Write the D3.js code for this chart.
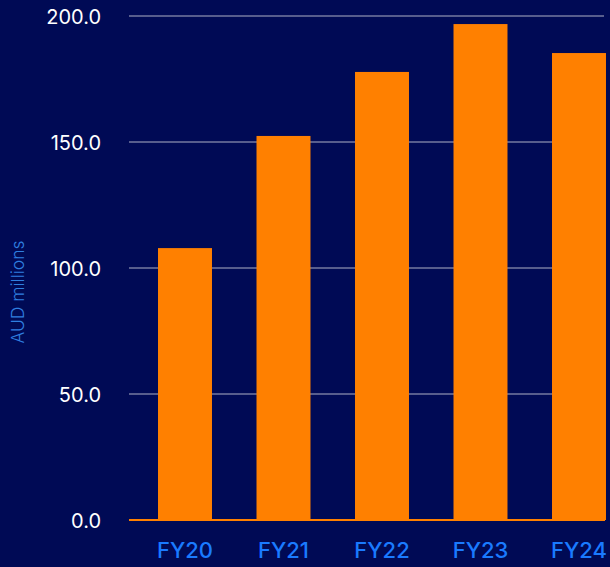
<!DOCTYPE html>
<html><head><meta charset="utf-8">
<script src="https://cdn.jsdelivr.net/npm/d3@7"></script>
<style>
html,body{margin:0;padding:0;background:#000a55;overflow:hidden;}
svg{display:block;}
</style></head><body>
<svg id="chart" width="610" height="567"></svg>
<script>
const categories = ["FY20","FY21","FY22","FY23","FY24"];
const values = [107.9, 152.4, 177.8, 196.8, 185.3];
const yTicks = [0, 50, 100, 150, 200];
const yTitle = "AUD millions";

const W = 610, H = 567;
const svg = d3.select("#chart");
svg.append("rect").attr("width", W).attr("height", H).attr("fill", "#000a55");

const y = d3.scaleLinear().domain([0, 200]).range([520, 16]);
const x = d3.scaleBand().domain(categories).range([129, 129 + 98.5 * 5.137])
  .paddingInner(0.452).paddingOuter(0.2945);

// gridlines
svg.append("g").selectAll("line").data(yTicks.filter(d => d > 0)).join("line")
  .attr("x1", 129).attr("x2", 604)
  .attr("y1", d => y(d)).attr("y2", d => y(d))
  .attr("stroke", "#aeb1c6").attr("stroke-width", 1);

// y axis labels
const yAxis = d3.axisLeft(y).tickValues(yTicks).tickFormat(d3.format(".1f")).tickSize(0).tickPadding(0);
const ga = svg.append("g").attr("transform", "translate(101,0)").call(yAxis);
ga.select(".domain").remove();
ga.selectAll("text").attr("fill", "#ffffff").style("font-family", "Inter, sans-serif")
  .style("font-size", "20px").attr("dy", "0.35em");

// bars
svg.append("g").selectAll("rect").data(values).join("rect")
  .attr("x", (d, i) => x(categories[i]))
  .attr("width", x.bandwidth())
  .attr("y", d => y(d))
  .attr("height", d => y(0) - y(d))
  .attr("fill", "#ff8000");

// baseline
svg.append("line").attr("x1", 129).attr("x2", 605).attr("y1", y(0)).attr("y2", y(0))
  .attr("stroke", "#ff8000").attr("stroke-width", 2);

// x labels
const xAxis = d3.axisBottom(x).tickSize(0).tickPadding(0);
const gx = svg.append("g").attr("transform", "translate(0,550)").call(xAxis);
gx.select(".domain").remove();
gx.selectAll("text").attr("fill", "#1a7aff").attr("dy", "0.35em")
  .style("font-family", "Inter, sans-serif").style("font-size", "22px").style("font-weight", "500");

// y title
svg.append("text").attr("transform", "translate(24,292) rotate(-90)")
  .attr("text-anchor", "middle").attr("fill", "#2f7fe0")
  .style("font-family", "Inter, sans-serif").style("font-size", "17.5px").style("font-weight", "300")
  .text(yTitle);
</script>
</body></html>
